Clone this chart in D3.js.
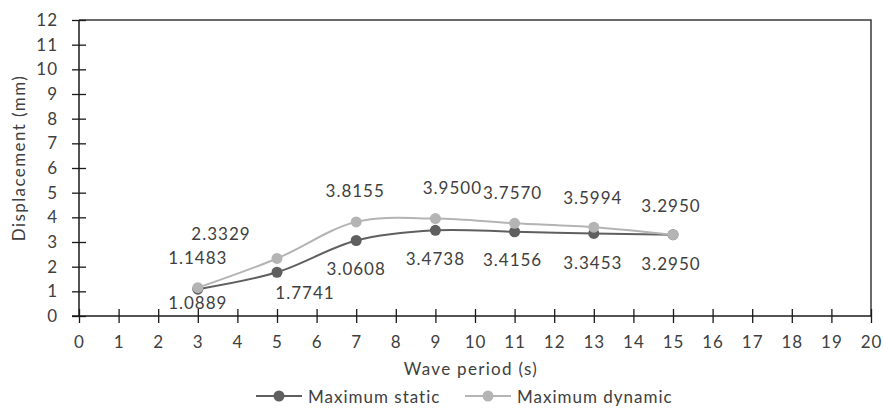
<!DOCTYPE html>
<html>
<head>
<meta charset="utf-8">
<script src="https://cdn.jsdelivr.net/npm/d3@7"></script>
<style>
  html, body { margin: 0; padding: 0; background: #fff; }
  svg text { font-family: Lato, "Open Sans", sans-serif; fill: #404040; letter-spacing: 1px; }
</style>
</head>
<body>
<svg id="chart" width="884" height="410"></svg>
<script>
// Wave periods (s)
const periods = [3, 5, 7, 9, 11, 13, 15];
// Maximum displacement (mm)
const staticValues  = [1.0889, 1.7741, 3.0608, 3.4738, 3.4156, 3.3453, 3.2950];
const dynamicValues = [1.1483, 2.3329, 3.8155, 3.9500, 3.7570, 3.5994, 3.2950];
const xTicks = d3.range(0, 21);
const yTicks = d3.range(0, 13);
const seriesNames = ["Maximum static", "Maximum dynamic"];

// Label placement (pixel offsets from each point)
const staticLabelOffsets  = [[0, 13], [28, 20], [0, 28], [0, 28], [-2, 28], [-1, 29], [-2, 29]];
const dynamicLabelOffsets = [[0, -30], [-56, -25], [-1, -31], [17, -31], [-2, -31], [-1, -30], [-2, -29]];

const svg = d3.select("#chart");
const margin = { left: 79, right: 13, top: 20, bottom: 94 };
const W = 884, H = 410;
const fs = "17px";

const x = d3.scaleLinear().domain([0, 20]).range([margin.left, W - margin.right]);
const y = d3.scaleLinear().domain([0, 12]).range([H - margin.bottom, margin.top]);

// plot frame (top and right edges)
svg.append("path")
  .attr("d", `M${x(0)},${y(12)}H${x(20)}V${y(0)}`)
  .attr("fill", "none").attr("stroke", "#3a3a3a").attr("stroke-width", 1.5);

// y axis with ticks crossing the line
const yAxis = svg.append("g")
  .attr("transform", `translate(${x(0)},0)`)
  .call(d3.axisLeft(y).tickValues(yTicks).tickSize(7).tickPadding(14).tickFormat(d3.format("d")));
yAxis.selectAll(".tick line").attr("x2", 7).attr("x1", -7);

// x axis
const xAxis = svg.append("g")
  .attr("transform", `translate(0,${y(0)})`)
  .call(d3.axisBottom(x).tickValues(xTicks).tickSize(7).tickPadding(13).tickFormat(d3.format("d")));
xAxis.selectAll(".tick line").attr("y1", -7).attr("y2", 7);

[yAxis, xAxis].forEach(g => {
  g.select(".domain").attr("stroke", "#1a1a1a").attr("stroke-width", 1.5);
  g.selectAll(".tick line").attr("stroke", "#1a1a1a").attr("stroke-width", 1.3);
  g.selectAll(".tick text").style("font-size", fs).attr("fill", "#404040");
});
xAxis.select(".domain").attr("d", `M${x(0)-7},0H${x(20)}`);
yAxis.select(".domain").attr("d", `M0,${y(0)}V${y(12)}`);

// axis titles
svg.append("text")
  .attr("x", 471).attr("y", 375)
  .attr("text-anchor", "middle").style("font-size", fs)
  .style("letter-spacing", "1.3px")
  .text("Wave period (s)");
svg.append("text")
  .attr("transform", `translate(25,158) rotate(-90)`)
  .attr("text-anchor", "middle").style("font-size", fs)
  .style("letter-spacing", "1.4px")
  .text("Displacement (mm)");

const series = [
  { name: seriesNames[0], values: staticValues,  color: "#5f5f5f", offsets: staticLabelOffsets },
  { name: seriesNames[1], values: dynamicValues, color: "#b4b4b4", offsets: dynamicLabelOffsets }
];

const line = d3.line()
  .x(d => x(d[0])).y(d => y(d[1]))
  .curve(d3.curveCatmullRom.alpha(0.5));

series.forEach(s => {
  const pts = periods.map((p, i) => [p, s.values[i]]);
  svg.append("path")
    .datum(pts)
    .attr("d", line)
    .attr("fill", "none")
    .attr("stroke", s.color)
    .attr("stroke-width", 2);
  svg.append("g").selectAll("circle")
    .data(pts).join("circle")
    .attr("cx", d => x(d[0])).attr("cy", d => y(d[1]))
    .attr("r", 5.5).attr("fill", s.color);
});

// data labels
series.forEach(s => {
  svg.append("g").selectAll("text")
    .data(periods.map((p, i) => ({ p, v: s.values[i], o: s.offsets[i] })))
    .join("text")
    .attr("x", d => x(d.p) + d.o[0])
    .attr("y", d => y(d.v) + d.o[1])
    .attr("text-anchor", "middle")
    .attr("dominant-baseline", "central")
    .style("font-size", fs)
    .text(d => d.v.toFixed(4));
});

// legend
const legend = svg.append("g").attr("transform", "translate(0,396)");
const legendX = [256, 465];
series.forEach((s, i) => {
  const g = legend.append("g").attr("transform", `translate(${legendX[i]},0)`);
  g.append("line").attr("x1", 0).attr("x2", 46).attr("y1", 0).attr("y2", 0)
    .attr("stroke", s.color).attr("stroke-width", 2);
  g.append("circle").attr("cx", 23).attr("cy", 0).attr("r", 5.5).attr("fill", s.color);
  g.append("text").attr("x", 52).attr("y", 0)
    .attr("dominant-baseline", "central").style("font-size", fs)
    .text(s.name);
});
</script>
</body>
</html>
